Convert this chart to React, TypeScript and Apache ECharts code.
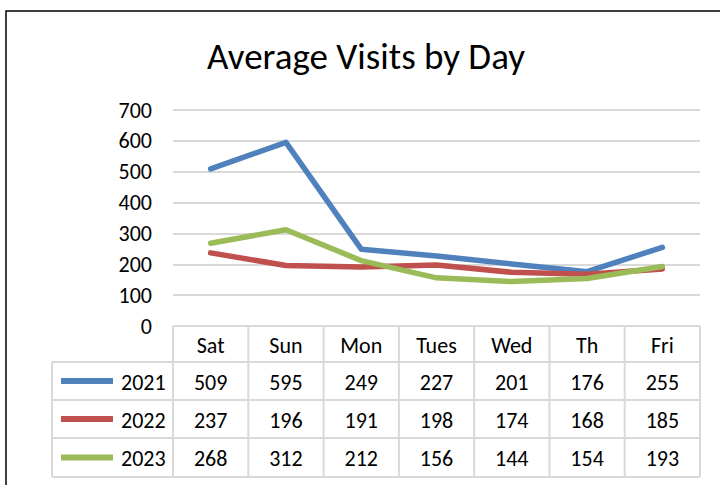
import React, { useEffect, useRef } from "react";
import * as echarts from "echarts";

const categories = ["Sat", "Sun", "Mon", "Tues", "Wed", "Th", "Fri"];
const seriesNames = ["2021", "2022", "2023"];
const values2021 = [509, 595, 249, 227, 201, 176, 255];
const values2022 = [237, 196, 191, 198, 174, 168, 185];
const values2023 = [268, 312, 212, 156, 144, 154, 193];
const colors = ["#4F81BD", "#C0504D", "#9BBB59"];

const FONT = "Carlito, Lato, 'Open Sans', sans-serif";
const FS = 22;

export default function App() {
  const ref = useRef<HTMLDivElement>(null);
  useEffect(() => {
    if (!ref.current) return;
    const chart = echarts.init(ref.current, undefined, { renderer: "svg" });
    const allValues = [values2021, values2022, values2023];
    const gridLeft = 173;
    const gridRight = 700;
    const gridTop = 110;
    const gridBottom = 326;
    const colW = (gridRight - gridLeft) / categories.length;
    const rowY = [326, 362, 400, 438, 477];
    const tableLeft = 52;
    const border = "#D9D9D9";
    const graphics: any[] = [];
    graphics.push({
      type: "rect",
      shape: { x: 6, y: 11, width: 740, height: 500 },
      style: { fill: "none", stroke: "#000", lineWidth: 1.5 },
      silent: true,
    });
    rowY.forEach((y, i) => {
      graphics.push({
        type: "line",
        shape: { x1: i === 0 ? gridLeft : tableLeft, y1: y, x2: gridRight, y2: y },
        style: { stroke: border, lineWidth: 2 },
      });
    });
    for (let i = 0; i <= categories.length; i++) {
      const x = gridLeft + i * colW;
      graphics.push({
        type: "line",
        shape: { x1: x, y1: rowY[0], x2: x, y2: rowY[4] },
        style: { stroke: border, lineWidth: 2 },
      });
    }
    graphics.push({
      type: "line",
      shape: { x1: tableLeft, y1: rowY[1], x2: tableLeft, y2: rowY[4] },
      style: { stroke: border, lineWidth: 2 },
    });
    categories.forEach((c, i) => {
      graphics.push({
        type: "text",
        x: gridLeft + (i + 0.5) * colW,
        y: (rowY[0] + rowY[1]) / 2 + 1,
        style: { text: c, fontSize: FS, fontFamily: FONT, fill: "#000", align: "center", verticalAlign: "middle" },
      });
    });
    allValues.forEach((vals, r) => {
      const cy = (rowY[r + 1] + rowY[r + 2]) / 2 + 1;
      graphics.push({
        type: "line",
        shape: { x1: 61, y1: cy - 1, x2: 113, y2: cy - 1 },
        style: { stroke: colors[r], lineWidth: 6 },
      });
      graphics.push({
        type: "text",
        x: 121,
        y: cy,
        style: { text: seriesNames[r], fontSize: FS, fontFamily: FONT, fill: "#000", align: "left", verticalAlign: "middle" },
      });
      vals.forEach((v, i) => {
        graphics.push({
          type: "text",
          x: gridLeft + (i + 0.5) * colW,
          y: cy,
          style: { text: String(v), fontSize: FS, fontFamily: FONT, fill: "#000", align: "center", verticalAlign: "middle" },
        });
      });
    });

    chart.setOption({
      animation: false,
      backgroundColor: "#fff",
      title: {
        text: "Average Visits by Day",
        left: 361,
        top: 33,
        textAlign: "center",
        textStyle: { fontSize: 37, fontWeight: "normal", fontFamily: FONT, color: "#000" },
      },
      grid: { left: gridLeft, right: 720 - gridRight, top: gridTop, bottom: 485 - gridBottom },
      xAxis: {
        type: "category",
        data: categories,
        boundaryGap: true,
        axisLine: { show: false },
        axisTick: { show: false },
        axisLabel: { show: false },
      },
      yAxis: {
        type: "value",
        min: 0,
        max: 700,
        interval: 100,
        axisLabel: { fontSize: FS, fontFamily: FONT, color: "#000", margin: 21 },
        splitLine: { lineStyle: { color: border, width: 2 } },
        axisLine: { show: false },
        axisTick: { show: false },
      },
      series: allValues.map((vals, r) => ({
        name: seriesNames[r],
        type: "line",
        data: vals,
        showSymbol: false,
        symbol: "none",
        lineStyle: { color: colors[r], width: 5.5, cap: "round", join: "round" },
        color: colors[r],
      })),
      graphic: graphics,
    });
    return () => chart.dispose();
  }, []);
  return (
    <div
      ref={ref}
      style={{ position: "fixed", left: 0, top: 0, width: 720, height: 485 }}
    />
  );
}
